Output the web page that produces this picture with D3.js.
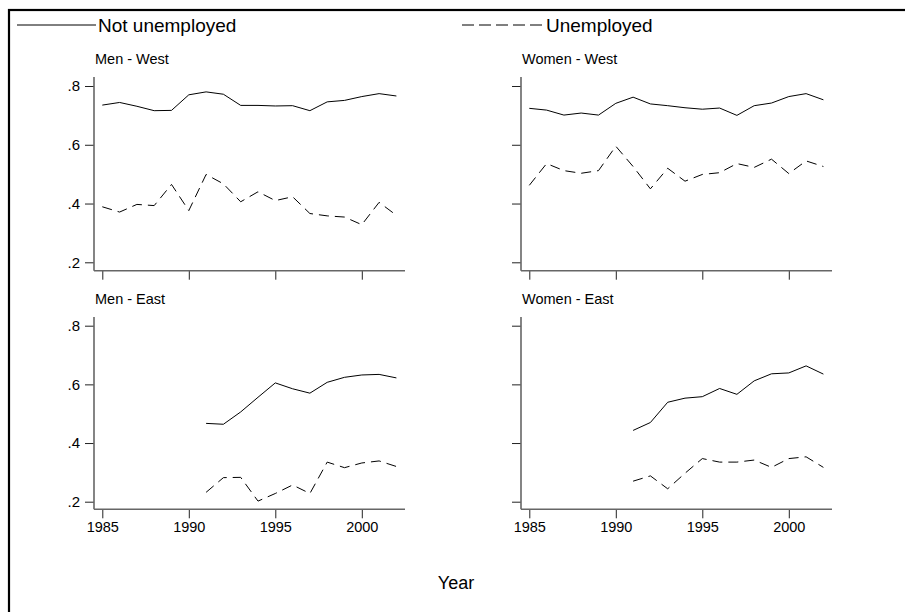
<!DOCTYPE html>
<html><head><meta charset="utf-8">
<script src="https://cdn.jsdelivr.net/npm/d3@7"></script>
<style>html,body{margin:0;padding:0;background:#fff;}svg{display:block;font-family:"Liberation Sans",Arial,sans-serif;}</style>
</head><body>
<svg id="c" width="905" height="612"></svg>
<script>
const years = d3.range(1985, 2003);
const yTicks = [0.2, 0.4, 0.6, 0.8];
const yTickLabels = [".2", ".4", ".6", ".8"];
const xTicks = [1985, 1990, 1995, 2000];
const seriesNames = ["Not unemployed", "Unemployed"];
const panelTitles = ["Men - West", "Women - West", "Men - East", "Women - East"];

// West: 1985-2002
const menWestNot = [0.735,0.744,0.731,0.716,0.717,0.770,0.780,0.772,0.734,0.734,0.732,0.733,0.716,0.746,0.751,0.764,0.774,0.766];
const menWestUnemp = [0.389,0.371,0.397,0.393,0.465,0.376,0.499,0.467,0.406,0.440,0.410,0.423,0.366,0.358,0.354,0.328,0.404,0.360];
const womenWestNot = [0.724,0.718,0.701,0.708,0.701,0.741,0.762,0.739,0.733,0.726,0.721,0.725,0.700,0.733,0.742,0.764,0.774,0.753];
const womenWestUnemp = [0.462,0.536,0.512,0.503,0.512,0.595,0.526,0.450,0.520,0.476,0.499,0.505,0.536,0.523,0.551,0.502,0.545,0.526];
// East: 1991-2002
const eastYears = d3.range(1991, 2003);
const menEastNot = [0.467,0.464,0.506,0.556,0.605,0.585,0.570,0.607,0.624,0.632,0.634,0.622];
const menEastUnemp = [0.232,0.282,0.283,0.202,0.228,0.257,0.228,0.335,0.316,0.332,0.339,0.320];
const womenEastNot = [0.443,0.470,0.539,0.553,0.558,0.586,0.566,0.612,0.636,0.639,0.663,0.635];
const womenEastUnemp = [0.270,0.288,0.244,0.297,0.347,0.335,0.335,0.342,0.317,0.347,0.353,0.317];

const svg = d3.select("#c");

// outer frame
svg.append("rect").attr("x", 9).attr("y", 10).attr("width", 1000).attr("height", 1000)
  .attr("fill", "none").attr("stroke", "#000").attr("stroke-width", 2.2);

// legend
const legend = [
  {name: seriesNames[0], x1: 17, x2: 96, tx: 98, dash: null},
  {name: seriesNames[1], x1: 462, x2: 543, tx: 546, dash: "12,5"}
];
legend.forEach(l => {
  svg.append("line").attr("x1", l.x1).attr("x2", l.x2).attr("y1", 25).attr("y2", 25)
    .attr("stroke", "#000").attr("stroke-width", 1).attr("stroke-dasharray", l.dash);
  svg.append("text").attr("x", l.tx).attr("y", 31.5).attr("font-size", 19).text(l.name);
});

const panels = [
  {title: panelTitles[0], ax: 94, top: 77, y8: 86, y2: 262.3, axisY: 270.7, yr: years, a: menWestNot, b: menWestUnemp, labelsY: true, labelsX: false},
  {title: panelTitles[1], ax: 521, top: 77, y8: 86, y2: 262.3, axisY: 270.7, yr: years, a: womenWestNot, b: womenWestUnemp, labelsY: false, labelsX: false},
  {title: panelTitles[2], ax: 94, top: 317, y8: 325.7, y2: 501.7, axisY: 509.3, yr: eastYears, a: menEastNot, b: menEastUnemp, labelsY: true, labelsX: true},
  {title: panelTitles[3], ax: 521, top: 317, y8: 325.7, y2: 501.7, axisY: 509.3, yr: eastYears, a: womenEastNot, b: womenEastUnemp, labelsY: false, labelsX: true}
];

panels.forEach(p => {
  const g = svg.append("g");
  const x = d3.scaleLinear().domain([1985, 2002]).range([p.ax + 8.3, p.ax + 8.3 + 17 * 17.3]);
  const y = d3.scaleLinear().domain([0.2, 0.8]).range([p.y2, p.y8]);

  // title
  g.append("text").attr("x", p.ax + 1).attr("y", p.top - 13).attr("font-size", 14.5).text(p.title);

  // y axis
  const yAxis = d3.axisLeft(y).tickValues(yTicks).tickSize(9).tickPadding(5)
    .tickFormat((d, i) => p.labelsY ? yTickLabels[i] : "");
  const gy = g.append("g").attr("transform", `translate(${p.ax},0)`).call(yAxis);
  gy.select(".domain").remove();
  gy.selectAll(".tick line").attr("stroke", "#222").attr("stroke-width", 1);
  gy.selectAll(".tick text").attr("font-size", 15).attr("font-family", "Liberation Sans, Arial, sans-serif").attr("fill", "#000");
  g.append("line").attr("x1", p.ax).attr("x2", p.ax).attr("y1", p.top).attr("y2", p.axisY)
    .attr("stroke", "#666").attr("stroke-width", 1.6);

  // x axis
  const xAxis = d3.axisBottom(x).tickValues(xTicks).tickSize(9).tickPadding(3)
    .tickFormat(d => p.labelsX ? d3.format("d")(d) : "");
  const gx = g.append("g").attr("transform", `translate(0,${p.axisY})`).call(xAxis);
  gx.select(".domain").remove();
  gx.selectAll(".tick line").attr("stroke", "#222").attr("stroke-width", 1);
  gx.selectAll(".tick text").attr("font-size", 14.5).attr("font-family", "Liberation Sans, Arial, sans-serif").attr("fill", "#000");
  g.append("line").attr("x1", p.ax).attr("x2", p.ax + 311).attr("y1", p.axisY).attr("y2", p.axisY)
    .attr("stroke", "#666").attr("stroke-width", 1.6);

  const line = d3.line().x(d => x(d[0])).y(d => y(d[1]));
  g.append("path").datum(p.yr.map((yy, i) => [yy, p.a[i]])).attr("d", line)
    .attr("fill", "none").attr("stroke", "#000").attr("stroke-width", 1);
  g.append("path").datum(p.yr.map((yy, i) => [yy, p.b[i]])).attr("d", line)
    .attr("fill", "none").attr("stroke", "#000").attr("stroke-width", 1).attr("stroke-dasharray", "10,6");
});

svg.append("text").attr("x", 456).attr("y", 589).attr("text-anchor", "middle").attr("font-size", 18).text("Year");
</script>
</body></html>
